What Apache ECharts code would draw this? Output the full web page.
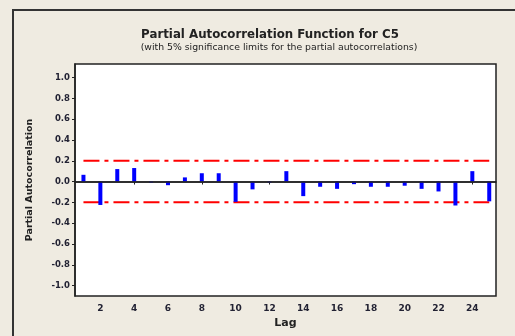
<!DOCTYPE html>
<html>
<head>
<meta charset="utf-8">
<script src="https://cdn.jsdelivr.net/npm/echarts@6/dist/echarts.min.js"></script>
<style>
  html, body { margin: 0; padding: 0; background: #efebe1; }
  #chart { width: 515px; height: 336px; }
</style>
</head>
<body>
<div id="chart"></div>
<script>
// lags and partial autocorrelations
const lags = [1, 2, 3, 4, 5, 6, 7, 8, 9, 10, 11, 12, 13, 14, 15, 16, 17, 18, 19, 20, 21, 22, 23, 24, 25]
const pacf = [0.065, -0.225, 0.12, 0.13, -0.01, -0.035, 0.04, 0.08, 0.08, -0.195, -0.075, -0.01, 0.1,
  -0.14, -0.05, -0.07, -0.025, -0.05, -0.05, -0.04, -0.07, -0.095, -0.23, 0.1, -0.19]
const limit = 0.2
const limitSpan = [1, 25]
const xTicks = [2, 4, 6, 8, 10, 12, 14, 16, 18, 20, 22, 24]
const yTicks = [-1.0, -0.8, -0.6, -0.4, -0.2, 0.0, 0.2, 0.4, 0.6, 0.8, 1.0]

const font = 'DejaVu Sans'
const chart = echarts.init(document.getElementById('chart'), null, { renderer: 'canvas' })

const dashDot = [16, 5, 4, 5]

chart.setOption({
  backgroundColor: '#efebe1',
  animation: false,
  graphic: [
    {
      type: 'rect',
      shape: { x: 13, y: 10, width: 520, height: 340 },
      style: { fill: 'none', stroke: '#333', lineWidth: 2 },
      silent: true,
    },
  ],
  title: [
    {
      text: 'Partial Autocorrelation Function for C5',
      left: 265,
      textAlign: 'center',
      top: 24,
      textStyle: { fontFamily: font, fontSize: 11.8, fontWeight: 'bold', color: '#222' },
    },
    {
      text: '(with 5% significance limits for the partial autocorrelations)',
      left: 274,
      textAlign: 'center',
      top: 38,
      textStyle: { fontFamily: font, fontSize: 9.3, fontWeight: 'normal', color: '#222' },
    },
  ],
  grid: {
    left: 75,
    right: 19,
    top: 64,
    bottom: 40,
    show: true,
    backgroundColor: '#fff',
    borderColor: '#222',
    borderWidth: 1.5,
  },
  xAxis: {
    type: 'value',
    min: 0.5,
    max: 25.4,
    name: 'Lag',
    nameLocation: 'middle',
    nameGap: 22,
    nameTextStyle: { fontFamily: font, fontSize: 11, fontWeight: 'bold', color: '#222' },
    axisLine: { show: true, lineStyle: { color: '#222', width: 1.5 } },
    axisTick: { show: true, length: 3, customValues: xTicks, lineStyle: { color: '#222' } },
    axisLabel: {
      customValues: xTicks,
      margin: 8,
      fontFamily: font,
      fontSize: 9,
      fontWeight: 'bold',
      color: '#223',
    },
    splitLine: { show: false },
  },
  yAxis: {
    type: 'value',
    min: -1.1,
    max: 1.13,
    name: 'Partial Autocorrelation',
    nameLocation: 'middle',
    nameGap: 40,
    nameTextStyle: { fontFamily: font, fontSize: 9.5, fontWeight: 'bold', color: '#222' },
    axisLine: { show: true, lineStyle: { color: '#222', width: 1.5 } },
    axisTick: { show: true, length: 3, customValues: yTicks, lineStyle: { color: '#222' } },
    axisLabel: {
      customValues: yTicks,
      margin: 5,
      fontFamily: font,
      fontSize: 8.5,
      fontWeight: 'bold',
      color: '#223',
      formatter: (v) => v.toFixed(1),
    },
    splitLine: { show: false },
  },
  series: [
    {
      type: 'bar',
      data: lags.map((l, i) => [l, pacf[i]]),
      barWidth: 4,
      itemStyle: { color: '#0000ff' },
      markLine: {
        silent: true,
        symbol: 'none',
        label: { show: false },
        lineStyle: { color: '#222', type: 'solid', width: 1.5 },
        data: [{ yAxis: 0 }],
      },
      z: 3,
    },
    {
      type: 'line',
      data: limitSpan.map((l) => [l, limit]),
      symbol: 'none',
      lineStyle: { color: '#ff0000', width: 2, type: dashDot },
      z: 2,
    },
    {
      type: 'line',
      data: limitSpan.map((l) => [l, -limit]),
      symbol: 'none',
      lineStyle: { color: '#ff0000', width: 2, type: dashDot },
      z: 2,
    },
  ],
})
</script>
</body>
</html>
